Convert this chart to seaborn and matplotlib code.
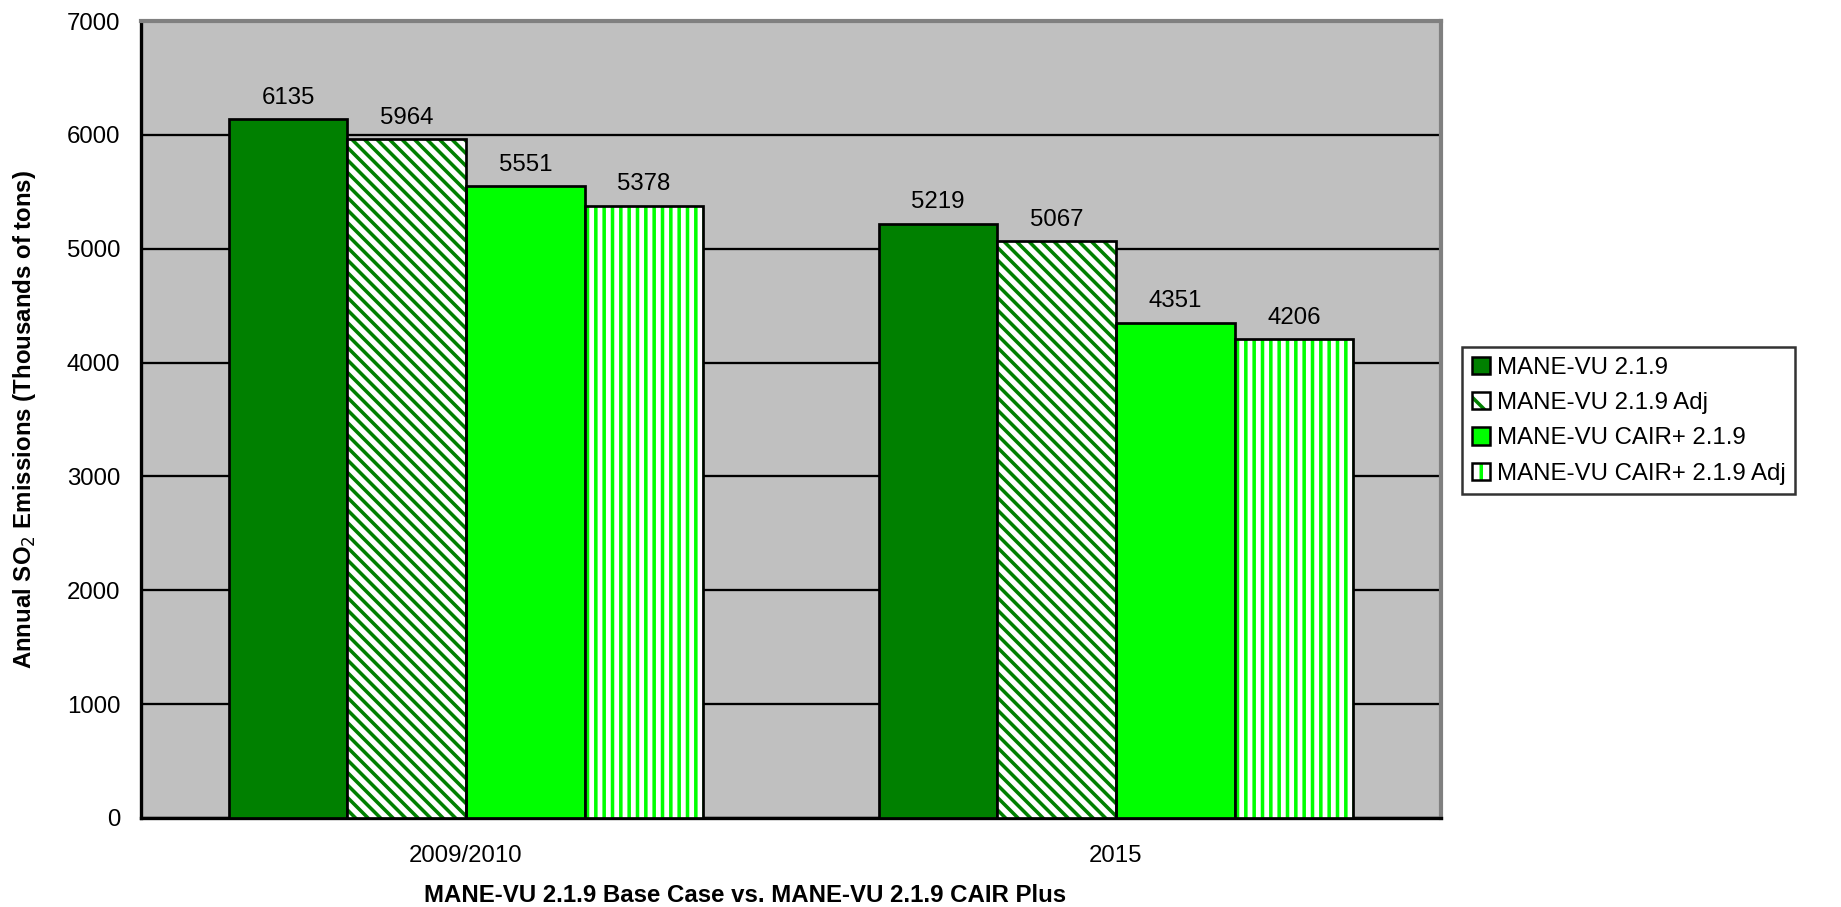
import matplotlib
matplotlib.use("Agg")
import matplotlib.pyplot as plt
from matplotlib.patches import Rectangle
from matplotlib.legend_handler import HandlerTuple
import seaborn as sns
import pandas as pd

categories = ["2009/2010", "2015"]
series = ["MANE-VU 2.1.9", "MANE-VU 2.1.9 Adj",
          "MANE-VU CAIR+ 2.1.9", "MANE-VU CAIR+ 2.1.9 Adj"]
values = {
    "MANE-VU 2.1.9": [6135, 5219],
    "MANE-VU 2.1.9 Adj": [5964, 5067],
    "MANE-VU CAIR+ 2.1.9": [5551, 4351],
    "MANE-VU CAIR+ 2.1.9 Adj": [5378, 4206],
}
y_ticks = [0, 1000, 2000, 3000, 4000, 5000, 6000, 7000]

# fill colour, bar hatch, legend-key hatch and hatch colour per series
styles = {
    "MANE-VU 2.1.9": ("#008000", None, None, None),
    "MANE-VU 2.1.9 Adj": ("white", "\\\\\\\\", "\\\\", "#008000"),
    "MANE-VU CAIR+ 2.1.9": ("#00FF00", None, None, None),
    "MANE-VU CAIR+ 2.1.9 Adj": ("white", "|||", "||", "#00FF00"),
}

df = pd.DataFrame(
    [(c, s, values[s][i]) for s in series for i, c in enumerate(categories)],
    columns=["category", "series", "value"],
)

sns.set_theme(style="white")
plt.rcParams["font.family"] = ["Liberation Sans", "DejaVu Sans"]
plt.rcParams["hatch.linewidth"] = 1.7
plt.rcParams["text.color"] = "black"
plt.rcParams["axes.labelcolor"] = "black"
plt.rcParams["xtick.color"] = "black"
plt.rcParams["ytick.color"] = "black"

DPI = 150
fig = plt.figure(figsize=(1841 / DPI, 907 / DPI), dpi=DPI)
ax = fig.add_axes([141 / 1841, 1 - 818 / 907, 1300 / 1841, 797 / 907])

palette = {s: styles[s][0] for s in series}
sns.barplot(data=df, x="category", y="value", hue="series", hue_order=series,
            order=categories, palette=palette, width=0.73, saturation=1,
            edgecolor="black", linewidth=1.3, legend=False, ax=ax, zorder=3)

legend_handles = []
for s, cont in zip(series, ax.containers):
    face, hatch, key_hatch, hcolor = styles[s]
    for bar in cont:
        if hatch:
            bar.set_facecolor("white")
            bar.set_edgecolor(hcolor)
            bar.set_hatch(hatch)
            bar.set_linewidth(0)
            ax.add_patch(Rectangle(bar.get_xy(), bar.get_width(), bar.get_height(),
                                   fill=False, edgecolor="black", linewidth=1.3,
                                   zorder=4))
    ax.bar_label(cont, fmt="%d", padding=5, fontsize=11.5, color="black")
    if hatch:
        fill = Rectangle((0, 0), 1, 1, facecolor="white", edgecolor=hcolor,
                         hatch=key_hatch, linewidth=0)
        outline = Rectangle((0, 0), 1, 1, fill=False, edgecolor="black",
                            linewidth=1.2)
        legend_handles.append((fill, outline))
    else:
        legend_handles.append(Rectangle((0, 0), 1, 1, facecolor=face,
                                        edgecolor="black", linewidth=1.2))

ax.set_facecolor("#C0C0C0")
ax.set_ylim(0, 7000)
ax.set_xlim(-0.5, 1.5)
ax.set_yticks(y_ticks)
ax.set_yticklabels([str(t) for t in y_ticks], fontsize=11.5, color="black")
ax.yaxis.grid(True, color="black", linewidth=1.1, zorder=0)
ax.set_axisbelow(True)

# category labels centred, tick marks on the category boundaries
ax.set_xticks([0, 1])
ax.set_xticklabels(categories, fontsize=11.5, color="black")
ax.tick_params(axis="x", which="major", length=0, pad=13)
ax.set_xticks([-0.5, 0.5, 1.5], minor=True)
ax.tick_params(axis="x", which="minor", length=4, width=1.2, color="black",
               direction="out")
ax.tick_params(axis="y", length=4, width=1.2, color="black", direction="out",
               pad=6)

for side in ["top", "right"]:
    ax.spines[side].set_color("#808080")
    ax.spines[side].set_linewidth(2)
for side in ["left", "bottom"]:
    ax.spines[side].set_color("black")
    ax.spines[side].set_linewidth(1.6)

ax.set_xlabel("MANE-VU 2.1.9 Base Case vs. MANE-VU 2.1.9 CAIR Plus",
              fontsize=11.5, fontweight="bold", color="black")
ax.xaxis.set_label_coords((745 - 141) / 1300, -(884 - 818) / 797)
ax.set_ylabel("Annual SO$_2$ Emissions (Thousands of tons)",
              fontsize=11.5, fontweight="bold", color="black")
ax.yaxis.set_label_coords(-(141 - 38) / 1300, 0.5)

leg = fig.legend(legend_handles, series, loc="upper left",
                 bbox_to_anchor=(1462 / 1841, 1 - 347 / 907),
                 frameon=True, fancybox=False, fontsize=11.5,
                 labelcolor="black",
                 handler_map={tuple: HandlerTuple(ndivide=1, pad=0)},
                 handlelength=0.75, handleheight=0.75, handletextpad=0.3,
                 labelspacing=0.55, borderpad=0.4, borderaxespad=0)
leg.get_frame().set_edgecolor("black")
leg.get_frame().set_linewidth(1.2)

fig.savefig("out.png", dpi=DPI, facecolor="white")
